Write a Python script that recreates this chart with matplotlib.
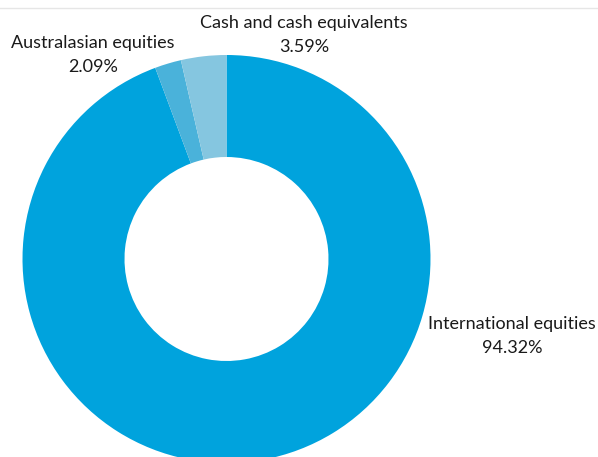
import matplotlib.pyplot as plt

categories = ["International equities", "Australasian equities", "Cash and cash equivalents"]
values = [94.32, 2.09, 3.59]
labels_pct = ["94.32%", "2.09%", "3.59%"]
colors = ["#00A3DD", "#4AB2DA", "#85C6E0"]

W, H = 598, 457
cx, cy, R = 226.5, 259, 204

fig = plt.figure(figsize=(W / 100, H / 100), dpi=100)
ax = fig.add_axes([0, 0, 1, 1])
ax.pie(values, colors=colors, startangle=90, counterclock=False, radius=1,
       wedgeprops=dict(width=0.5, edgecolor="none"))
ax.set_xlim(-cx / R, (W - cx) / R)
ax.set_ylim(-(H - cy) / R, cy / R)
ax.set_aspect("auto")
ax.axis("off")

def px(x, y):
    return (x - cx) / R, (cy - y) / R

ax.axhline((cy - 8) / R, color="#e6e6e6", lw=1)

font = dict(family=["Lato", "DejaVu Sans"], fontsize=13, color="#1a1a1a",
            ha="center", va="center", linespacing=1.55)
pos = {
    "International equities": (512, 336),
    "Australasian equities": (93, 55),
    "Cash and cash equivalents": (304, 35),
}
for cat, pct in zip(categories, labels_pct):
    x, y = px(*pos[cat])
    ax.text(x, y, f"{cat}\n{pct}", **font)

fig.savefig("out.png", dpi=100)
